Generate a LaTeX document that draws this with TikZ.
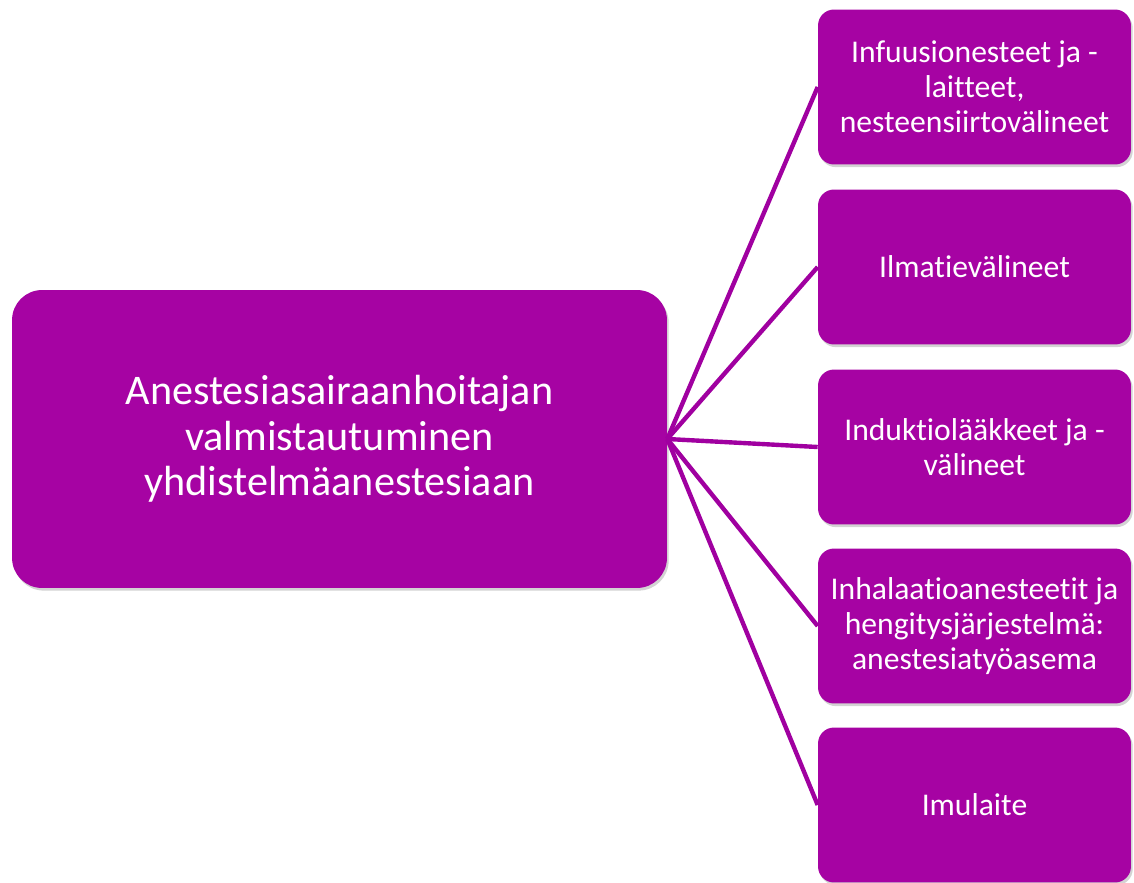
\documentclass[tikz,border=0pt]{standalone}
\usepackage{fontspec}
\setmainfont{Carlito}[RawFeature={-liga;-clig}]
\usetikzlibrary{shadows}
\definecolor{boxfill}{RGB}{166,3,163}
\definecolor{linecol}{RGB}{160,0,160}
\begin{document}
\begin{tikzpicture}[x=0.02cm,y=-0.02cm,
  boxbase/.style={draw=none, fill=boxfill, text=white, align=center, inner sep=0pt,
    drop shadow={opacity=0.35, shadow xshift=1pt, shadow yshift=-1.5pt}},
  mainbox/.style={boxbase, rounded corners=0.6cm, minimum width=13.1cm, minimum height=5.96cm,
    font=\fontsize{24}{25.8}\selectfont},
  sidebox/.style={boxbase, rounded corners=0.32cm, minimum width=6.26cm, minimum height=3.1cm,
    font=\fontsize{18}{19.8}\selectfont},
  link/.style={draw=linecol, line width=2.5pt}]
\useasboundingbox (0,0) rectangle (1134,883);
\node[mainbox] (main) at (339.5,439) {Anestesiasairaanhoitajan\\valmistautuminen\\yhdistelmäanestesiaan};
\node[sidebox] (b1) at (974.5,87) {Infuusionesteet ja -\\laitteet,\\nesteensiirtovälineet};
\node[sidebox] (b2) at (974.5,267) {Ilmatievälineet};
\node[sidebox] (b3) at (974.5,447) {Induktiolääkkeet ja -\\välineet};
\node[sidebox] (b4) at (974.5,626) {Inhalaatioanesteetit ja\\hengitysjärjestelmä:\\anestesiatyöasema};
\node[sidebox] (b5) at (974.5,805) {Imulaite};
\foreach \b in {b1,b2,b3,b4,b5}
  \draw[link] (main.east) -- (\b.west);
\end{tikzpicture}
\end{document}
